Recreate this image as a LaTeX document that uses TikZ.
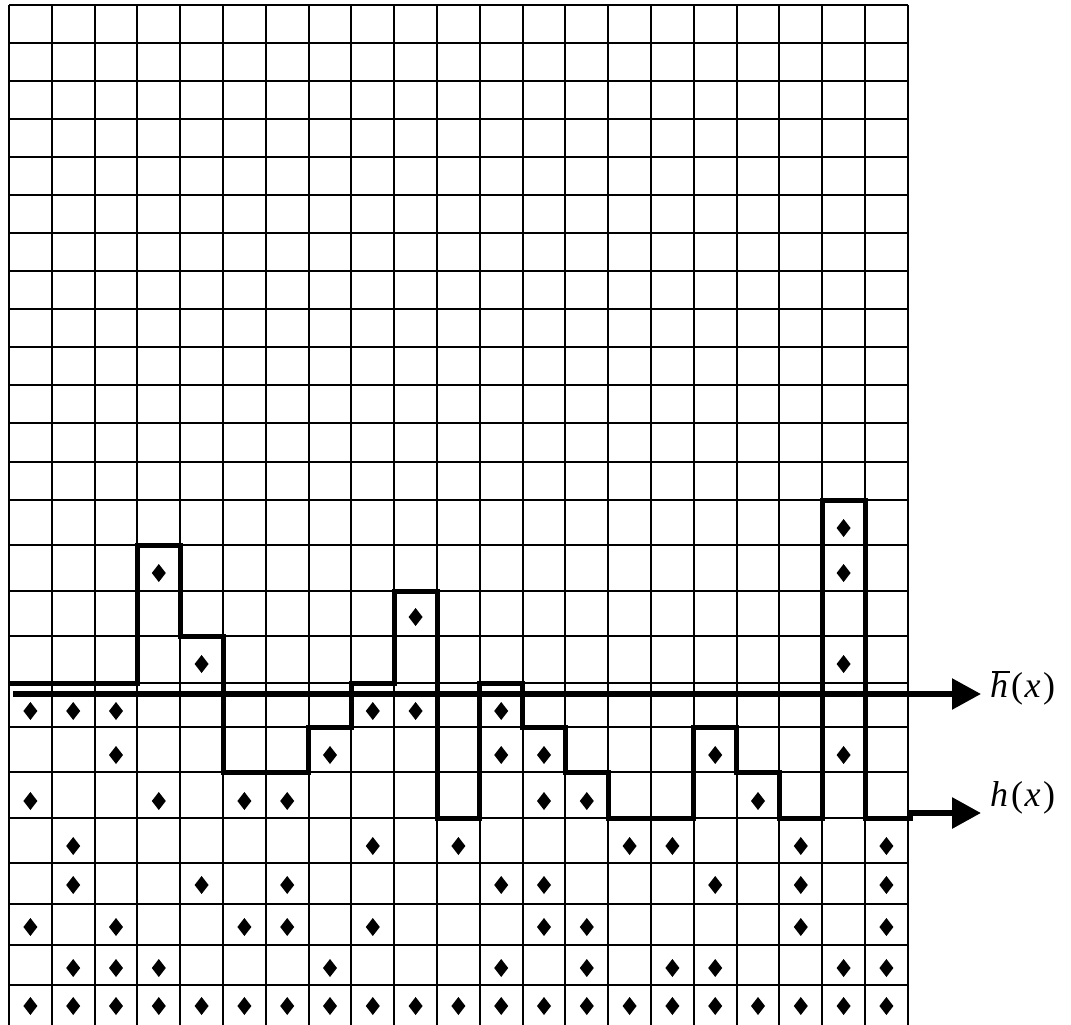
\documentclass[tikz,border=0pt]{standalone}
\usepackage{fontspec}
\setmainfont{Liberation Serif}
\usetikzlibrary{arrows.meta}
\begin{document}
\begin{tikzpicture}[x=1pt,y=-1pt,
  gridline/.style={line width=2pt},
  hpath/.style={line width=5pt},
  pointer/.style={line width=6pt,-{Triangle[length=29pt,width=30pt]}},
  lab/.style={inner sep=0pt, anchor=base west, font=\fontsize{36}{42}\selectfont},
  diamondmark/.style={fill=black}]
\useasboundingbox (0,0) rectangle (1071,1025);
% grid
\foreach \i in {0,...,21} \draw[gridline] (9+42.8*\i,5) -- (9+42.8*\i,1025);
\foreach \y in {5,43,81,119,157,195,233,271,309,347,385,423,462,500,545,591,636,683,727,772,818,863,904,945,985}
  \draw[gridline] (9,\y) -- (907.8,\y);
% diamonds
\foreach \r/\cols in {528/{19},573/{3,19},617/{9},664/{4,19},711/{0,1,2,8,9,11},
  755/{2,7,11,12,16,19},801/{0,3,5,6,12,13,17},846/{1,8,10,14,15,18,20},
  885/{1,4,6,11,12,16,18,20},927/{0,2,5,6,8,12,13,18,20},968/{1,2,3,7,11,13,15,16,19,20},
  1006/{0,1,2,3,4,5,6,7,8,9,10,11,12,13,14,15,16,17,18,19,20}}{
  \foreach \c in \cols {
    \fill[diamondmark] (30.4+42.8*\c,\r-9) -- (37.4+42.8*\c,\r) -- (30.4+42.8*\c,\r+9) -- (23.4+42.8*\c,\r) -- cycle;
  }
}
% h(x) step path
\draw[hpath] (9,683) -- (137.4,683) -- (137.4,545) -- (180.2,545) -- (180.2,636) -- (223,636)
  -- (223,772) -- (308.6,772) -- (308.6,727) -- (351.4,727) -- (351.4,683) -- (394.2,683)
  -- (394.2,591) -- (437,591) -- (437,818) -- (479.8,818) -- (479.8,683) -- (522.6,683)
  -- (522.6,727) -- (565.4,727) -- (565.4,772) -- (608.2,772) -- (608.2,818) -- (693.8,818)
  -- (693.8,727) -- (736.6,727) -- (736.6,772) -- (779.4,772) -- (779.4,818) -- (822.2,818)
  -- (822.2,500) -- (865,500) -- (865,818) -- (913,818);
% labels
\node[lab] (hbar) at (990,697) {\rlap{\kern2pt\rule[24.5pt]{18pt}{2pt}}\textit{h}\kern3pt(\kern1.5pt\textit{x}\kern2.5pt)};
\node[lab] (hlab) at (990,806) {\textit{h}\kern3pt(\kern1.5pt\textit{x}\kern2.5pt)};
% arrows
\coordinate (hbarStart) at (13,694);
\coordinate (hbarTip) at (981,694);
\coordinate (hStart) at (909,813);
\coordinate (hTip) at (981,813);
\draw[pointer, line width=5.5pt] (hbarStart) -- (hbarTip);
\draw[pointer] (hStart) -- (hTip);
\end{tikzpicture}
\end{document}
